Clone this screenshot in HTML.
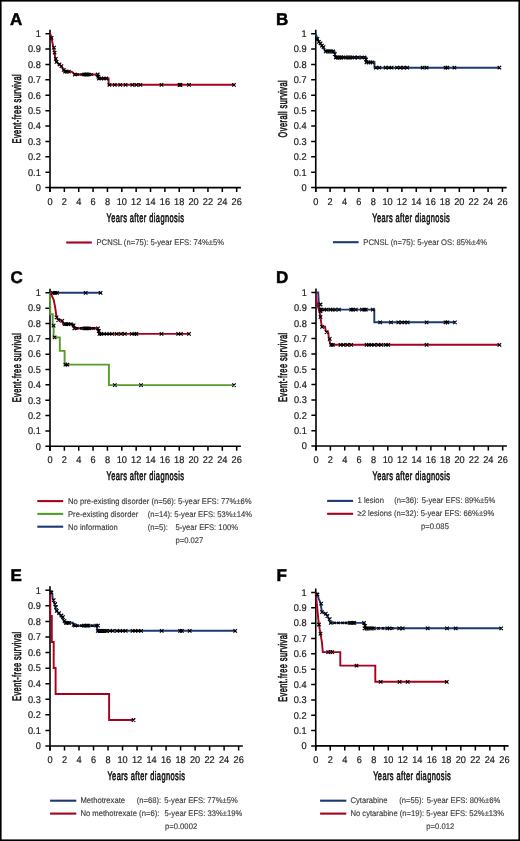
<!DOCTYPE html>
<html><head><meta charset="utf-8"><title>Figure</title>
<style>
html,body{margin:0;padding:0;background:#fff;}
body{width:520px;height:841px;overflow:hidden;font-family:"Liberation Sans", sans-serif;}
svg{display:block;will-change:transform;text-rendering:geometricPrecision;}
</style></head>
<body>
<svg width="520" height="841" viewBox="0 0 520 841">
<rect x="0" y="0" width="520" height="841" fill="#fff"/>
<rect x="0.8" y="0.8" width="518.4" height="839.4" fill="none" stroke="#000" stroke-width="1.6"/>
<text x="10" y="24.6" font-family='"Liberation Sans", sans-serif' font-weight="bold" font-size="17" fill="#000" stroke="#000" stroke-width="0.5">A</text>
<text transform="translate(40.8 190.9) scale(0.94 1)" text-anchor="end" font-family='"Liberation Sans", sans-serif' font-size="9.8" fill="#1a1a1a" stroke="#1a1a1a" stroke-width="0.2">0</text>
<text transform="translate(40.8 175.51) scale(0.94 1)" text-anchor="end" font-family='"Liberation Sans", sans-serif' font-size="9.8" fill="#1a1a1a" stroke="#1a1a1a" stroke-width="0.2">0.1</text>
<text transform="translate(40.8 160.12) scale(0.94 1)" text-anchor="end" font-family='"Liberation Sans", sans-serif' font-size="9.8" fill="#1a1a1a" stroke="#1a1a1a" stroke-width="0.2">0.2</text>
<text transform="translate(40.8 144.73) scale(0.94 1)" text-anchor="end" font-family='"Liberation Sans", sans-serif' font-size="9.8" fill="#1a1a1a" stroke="#1a1a1a" stroke-width="0.2">0.3</text>
<text transform="translate(40.8 129.34) scale(0.94 1)" text-anchor="end" font-family='"Liberation Sans", sans-serif' font-size="9.8" fill="#1a1a1a" stroke="#1a1a1a" stroke-width="0.2">0.4</text>
<text transform="translate(40.8 113.95) scale(0.94 1)" text-anchor="end" font-family='"Liberation Sans", sans-serif' font-size="9.8" fill="#1a1a1a" stroke="#1a1a1a" stroke-width="0.2">0.5</text>
<text transform="translate(40.8 98.56) scale(0.94 1)" text-anchor="end" font-family='"Liberation Sans", sans-serif' font-size="9.8" fill="#1a1a1a" stroke="#1a1a1a" stroke-width="0.2">0.6</text>
<text transform="translate(40.8 83.17) scale(0.94 1)" text-anchor="end" font-family='"Liberation Sans", sans-serif' font-size="9.8" fill="#1a1a1a" stroke="#1a1a1a" stroke-width="0.2">0.7</text>
<text transform="translate(40.8 67.78) scale(0.94 1)" text-anchor="end" font-family='"Liberation Sans", sans-serif' font-size="9.8" fill="#1a1a1a" stroke="#1a1a1a" stroke-width="0.2">0.8</text>
<text transform="translate(40.8 52.39) scale(0.94 1)" text-anchor="end" font-family='"Liberation Sans", sans-serif' font-size="9.8" fill="#1a1a1a" stroke="#1a1a1a" stroke-width="0.2">0.9</text>
<text transform="translate(40.8 37) scale(0.94 1)" text-anchor="end" font-family='"Liberation Sans", sans-serif' font-size="9.8" fill="#1a1a1a" stroke="#1a1a1a" stroke-width="0.2">1</text>
<text transform="translate(50 204.8) scale(0.94 1)" text-anchor="middle" font-family='"Liberation Sans", sans-serif' font-size="9.8" fill="#1a1a1a" stroke="#1a1a1a" stroke-width="0.2">0</text>
<text transform="translate(64.36 204.8) scale(0.94 1)" text-anchor="middle" font-family='"Liberation Sans", sans-serif' font-size="9.8" fill="#1a1a1a" stroke="#1a1a1a" stroke-width="0.2">2</text>
<text transform="translate(78.72 204.8) scale(0.94 1)" text-anchor="middle" font-family='"Liberation Sans", sans-serif' font-size="9.8" fill="#1a1a1a" stroke="#1a1a1a" stroke-width="0.2">4</text>
<text transform="translate(93.08 204.8) scale(0.94 1)" text-anchor="middle" font-family='"Liberation Sans", sans-serif' font-size="9.8" fill="#1a1a1a" stroke="#1a1a1a" stroke-width="0.2">6</text>
<text transform="translate(107.44 204.8) scale(0.94 1)" text-anchor="middle" font-family='"Liberation Sans", sans-serif' font-size="9.8" fill="#1a1a1a" stroke="#1a1a1a" stroke-width="0.2">8</text>
<text transform="translate(121.8 204.8) scale(0.94 1)" text-anchor="middle" font-family='"Liberation Sans", sans-serif' font-size="9.8" fill="#1a1a1a" stroke="#1a1a1a" stroke-width="0.2">10</text>
<text transform="translate(136.16 204.8) scale(0.94 1)" text-anchor="middle" font-family='"Liberation Sans", sans-serif' font-size="9.8" fill="#1a1a1a" stroke="#1a1a1a" stroke-width="0.2">12</text>
<text transform="translate(150.52 204.8) scale(0.94 1)" text-anchor="middle" font-family='"Liberation Sans", sans-serif' font-size="9.8" fill="#1a1a1a" stroke="#1a1a1a" stroke-width="0.2">14</text>
<text transform="translate(164.88 204.8) scale(0.94 1)" text-anchor="middle" font-family='"Liberation Sans", sans-serif' font-size="9.8" fill="#1a1a1a" stroke="#1a1a1a" stroke-width="0.2">16</text>
<text transform="translate(179.24 204.8) scale(0.94 1)" text-anchor="middle" font-family='"Liberation Sans", sans-serif' font-size="9.8" fill="#1a1a1a" stroke="#1a1a1a" stroke-width="0.2">18</text>
<text transform="translate(193.6 204.8) scale(0.94 1)" text-anchor="middle" font-family='"Liberation Sans", sans-serif' font-size="9.8" fill="#1a1a1a" stroke="#1a1a1a" stroke-width="0.2">20</text>
<text transform="translate(207.96 204.8) scale(0.94 1)" text-anchor="middle" font-family='"Liberation Sans", sans-serif' font-size="9.8" fill="#1a1a1a" stroke="#1a1a1a" stroke-width="0.2">22</text>
<text transform="translate(222.32 204.8) scale(0.94 1)" text-anchor="middle" font-family='"Liberation Sans", sans-serif' font-size="9.8" fill="#1a1a1a" stroke="#1a1a1a" stroke-width="0.2">24</text>
<text transform="translate(236.68 204.8) scale(0.94 1)" text-anchor="middle" font-family='"Liberation Sans", sans-serif' font-size="9.8" fill="#1a1a1a" stroke="#1a1a1a" stroke-width="0.2">26</text>
<path d="M45.4 187.6H50M45.4 172.21H50M45.4 156.82H50M45.4 141.43H50M45.4 126.04H50M45.4 110.65H50M45.4 95.26H50M45.4 79.87H50M45.4 64.48H50M45.4 49.09H50M45.4 33.7H50M50 187.6V192.1M64.36 187.6V192.1M78.72 187.6V192.1M93.08 187.6V192.1M107.44 187.6V192.1M121.8 187.6V192.1M136.16 187.6V192.1M150.52 187.6V192.1M164.88 187.6V192.1M179.24 187.6V192.1M193.6 187.6V192.1M207.96 187.6V192.1M222.32 187.6V192.1M236.68 187.6V192.1" stroke="#000" stroke-width="1.5" fill="none"/>
<path d="M50 29.7V192.1M49.25 187.6H240.88" stroke="#000" stroke-width="1.6" fill="none"/>
<text transform="translate(145.44 221.5) scale(0.6 1)" text-anchor="middle" font-family='"Liberation Sans", sans-serif' font-size="12.4" letter-spacing="0.7" fill="#111" stroke="#111" stroke-width="0.6">Years after diagnosis</text>
<text transform="translate(21 108.65) rotate(-90) scale(0.6 1)" text-anchor="middle" font-family='"Liberation Sans", sans-serif' font-size="12.4" letter-spacing="0.7" fill="#111" stroke="#111" stroke-width="0.6">Event-free survival</text>
<path d="M50.3 33.7 L51.5 37.8 L53.4 47.7 L54.6 52.6 L55.2 57.5 L55.8 61.2 L58.3 63.7 L61.4 66.2 L63.8 70.5 L64.5 71.7 L71.8 71.7 L74.9 74.5 L95.2 74.5 L97.7 76.6 L98.9 78.5 L108.6 78.5 L108.6 84.8 L234 84.8" fill="none" stroke="#a8001f" stroke-width="1.9" stroke-linejoin="miter"/>
<path d="M49.75 36.05L53.25 39.55M49.75 39.55L53.25 36.05M52.25 45.95L55.75 49.45M52.25 49.45L55.75 45.95M52.85 50.85L56.35 54.35M52.85 54.35L56.35 50.85M54.05 57.05L57.55 60.55M54.05 60.55L57.55 57.05M54.75 60.05L58.25 63.55M54.75 63.55L58.25 60.05M57.75 62.55L61.25 66.05M57.75 66.05L61.25 62.55M59.65 64.45L63.15 67.95M59.65 67.95L63.15 64.45M62.05 68.05L65.55 71.55M62.05 71.55L65.55 68.05M63.35 69.95L66.85 73.45M63.35 73.45L66.85 69.95M65.15 69.95L68.65 73.45M65.15 73.45L68.65 69.95M67.05 69.95L70.55 73.45M67.05 73.45L70.55 69.95M73.15 72.75L76.65 76.25M73.15 76.25L76.65 72.75M76.6 73.3L79 75.7M76.6 75.7L79 73.3M80.5 73.3L82.9 75.7M80.5 75.7L82.9 73.3M82.55 72.75L86.05 76.25M82.55 76.25L86.05 72.75M84.05 72.75L87.55 76.25M84.05 76.25L87.55 72.75M85.55 72.75L89.05 76.25M85.55 76.25L89.05 72.75M86.95 72.75L90.45 76.25M86.95 76.25L90.45 72.75M90.3 73.3L92.7 75.7M90.3 75.7L92.7 73.3M95.95 72.75L99.45 76.25M95.95 76.25L99.45 72.75M96.55 74.85L100.05 78.35M96.55 78.35L100.05 74.85M97.15 76.75L100.65 80.25M97.15 80.25L100.65 76.75M99.65 76.75L103.15 80.25M99.65 80.25L103.15 76.75M102.05 76.75L105.55 80.25M102.05 80.25L105.55 76.75M104.55 76.75L108.05 80.25M104.55 80.25L108.05 76.75M107.65 83.05L111.15 86.55M107.65 86.55L111.15 83.05M113.05 83.05L116.55 86.55M113.05 86.55L116.55 83.05M118.45 83.05L121.95 86.55M118.45 86.55L121.95 83.05M123.85 83.05L127.35 86.55M123.85 86.55L127.35 83.05M130.55 83.05L134.05 86.55M130.55 86.55L134.05 83.05M134.65 83.05L138.15 86.55M134.65 86.55L138.15 83.05M138.65 83.05L142.15 86.55M138.65 86.55L142.15 83.05M159.75 83.05L163.25 86.55M159.75 86.55L163.25 83.05M177.75 83.05L181.25 86.55M177.75 86.55L181.25 83.05M178.75 83.05L182.25 86.55M178.75 86.55L182.25 83.05M187.25 83.05L190.75 86.55M187.25 86.55L190.75 83.05M232.25 83.05L235.75 86.55M232.25 86.55L235.75 83.05" fill="none" stroke="#000" stroke-width="1.2"/>
<path d="M66.2 242.5H91.8" stroke="#a8001f" stroke-width="2.1"/>
<text transform="translate(96.5 245.4) scale(0.935 1)" font-family='"Liberation Sans", sans-serif' font-size="8.2" fill="#3c3c3c" stroke="#3c3c3c" stroke-width="0.15">PCNSL (n=75): 5-year EFS: 74%±5%</text>
<text x="276" y="24.6" font-family='"Liberation Sans", sans-serif' font-weight="bold" font-size="17" fill="#000" stroke="#000" stroke-width="0.5">B</text>
<text transform="translate(306.55 190.9) scale(0.94 1)" text-anchor="end" font-family='"Liberation Sans", sans-serif' font-size="9.8" fill="#1a1a1a" stroke="#1a1a1a" stroke-width="0.2">0</text>
<text transform="translate(306.55 175.51) scale(0.94 1)" text-anchor="end" font-family='"Liberation Sans", sans-serif' font-size="9.8" fill="#1a1a1a" stroke="#1a1a1a" stroke-width="0.2">0.1</text>
<text transform="translate(306.55 160.12) scale(0.94 1)" text-anchor="end" font-family='"Liberation Sans", sans-serif' font-size="9.8" fill="#1a1a1a" stroke="#1a1a1a" stroke-width="0.2">0.2</text>
<text transform="translate(306.55 144.73) scale(0.94 1)" text-anchor="end" font-family='"Liberation Sans", sans-serif' font-size="9.8" fill="#1a1a1a" stroke="#1a1a1a" stroke-width="0.2">0.3</text>
<text transform="translate(306.55 129.34) scale(0.94 1)" text-anchor="end" font-family='"Liberation Sans", sans-serif' font-size="9.8" fill="#1a1a1a" stroke="#1a1a1a" stroke-width="0.2">0.4</text>
<text transform="translate(306.55 113.95) scale(0.94 1)" text-anchor="end" font-family='"Liberation Sans", sans-serif' font-size="9.8" fill="#1a1a1a" stroke="#1a1a1a" stroke-width="0.2">0.5</text>
<text transform="translate(306.55 98.56) scale(0.94 1)" text-anchor="end" font-family='"Liberation Sans", sans-serif' font-size="9.8" fill="#1a1a1a" stroke="#1a1a1a" stroke-width="0.2">0.6</text>
<text transform="translate(306.55 83.17) scale(0.94 1)" text-anchor="end" font-family='"Liberation Sans", sans-serif' font-size="9.8" fill="#1a1a1a" stroke="#1a1a1a" stroke-width="0.2">0.7</text>
<text transform="translate(306.55 67.78) scale(0.94 1)" text-anchor="end" font-family='"Liberation Sans", sans-serif' font-size="9.8" fill="#1a1a1a" stroke="#1a1a1a" stroke-width="0.2">0.8</text>
<text transform="translate(306.55 52.39) scale(0.94 1)" text-anchor="end" font-family='"Liberation Sans", sans-serif' font-size="9.8" fill="#1a1a1a" stroke="#1a1a1a" stroke-width="0.2">0.9</text>
<text transform="translate(306.55 37) scale(0.94 1)" text-anchor="end" font-family='"Liberation Sans", sans-serif' font-size="9.8" fill="#1a1a1a" stroke="#1a1a1a" stroke-width="0.2">1</text>
<text transform="translate(315.75 204.8) scale(0.94 1)" text-anchor="middle" font-family='"Liberation Sans", sans-serif' font-size="9.8" fill="#1a1a1a" stroke="#1a1a1a" stroke-width="0.2">0</text>
<text transform="translate(330.11 204.8) scale(0.94 1)" text-anchor="middle" font-family='"Liberation Sans", sans-serif' font-size="9.8" fill="#1a1a1a" stroke="#1a1a1a" stroke-width="0.2">2</text>
<text transform="translate(344.47 204.8) scale(0.94 1)" text-anchor="middle" font-family='"Liberation Sans", sans-serif' font-size="9.8" fill="#1a1a1a" stroke="#1a1a1a" stroke-width="0.2">4</text>
<text transform="translate(358.83 204.8) scale(0.94 1)" text-anchor="middle" font-family='"Liberation Sans", sans-serif' font-size="9.8" fill="#1a1a1a" stroke="#1a1a1a" stroke-width="0.2">6</text>
<text transform="translate(373.19 204.8) scale(0.94 1)" text-anchor="middle" font-family='"Liberation Sans", sans-serif' font-size="9.8" fill="#1a1a1a" stroke="#1a1a1a" stroke-width="0.2">8</text>
<text transform="translate(387.55 204.8) scale(0.94 1)" text-anchor="middle" font-family='"Liberation Sans", sans-serif' font-size="9.8" fill="#1a1a1a" stroke="#1a1a1a" stroke-width="0.2">10</text>
<text transform="translate(401.91 204.8) scale(0.94 1)" text-anchor="middle" font-family='"Liberation Sans", sans-serif' font-size="9.8" fill="#1a1a1a" stroke="#1a1a1a" stroke-width="0.2">12</text>
<text transform="translate(416.27 204.8) scale(0.94 1)" text-anchor="middle" font-family='"Liberation Sans", sans-serif' font-size="9.8" fill="#1a1a1a" stroke="#1a1a1a" stroke-width="0.2">14</text>
<text transform="translate(430.63 204.8) scale(0.94 1)" text-anchor="middle" font-family='"Liberation Sans", sans-serif' font-size="9.8" fill="#1a1a1a" stroke="#1a1a1a" stroke-width="0.2">16</text>
<text transform="translate(444.99 204.8) scale(0.94 1)" text-anchor="middle" font-family='"Liberation Sans", sans-serif' font-size="9.8" fill="#1a1a1a" stroke="#1a1a1a" stroke-width="0.2">18</text>
<text transform="translate(459.35 204.8) scale(0.94 1)" text-anchor="middle" font-family='"Liberation Sans", sans-serif' font-size="9.8" fill="#1a1a1a" stroke="#1a1a1a" stroke-width="0.2">20</text>
<text transform="translate(473.71 204.8) scale(0.94 1)" text-anchor="middle" font-family='"Liberation Sans", sans-serif' font-size="9.8" fill="#1a1a1a" stroke="#1a1a1a" stroke-width="0.2">22</text>
<text transform="translate(488.07 204.8) scale(0.94 1)" text-anchor="middle" font-family='"Liberation Sans", sans-serif' font-size="9.8" fill="#1a1a1a" stroke="#1a1a1a" stroke-width="0.2">24</text>
<text transform="translate(502.43 204.8) scale(0.94 1)" text-anchor="middle" font-family='"Liberation Sans", sans-serif' font-size="9.8" fill="#1a1a1a" stroke="#1a1a1a" stroke-width="0.2">26</text>
<path d="M311.15 187.6H315.75M311.15 172.21H315.75M311.15 156.82H315.75M311.15 141.43H315.75M311.15 126.04H315.75M311.15 110.65H315.75M311.15 95.26H315.75M311.15 79.87H315.75M311.15 64.48H315.75M311.15 49.09H315.75M311.15 33.7H315.75M315.75 187.6V192.1M330.11 187.6V192.1M344.47 187.6V192.1M358.83 187.6V192.1M373.19 187.6V192.1M387.55 187.6V192.1M401.91 187.6V192.1M416.27 187.6V192.1M430.63 187.6V192.1M444.99 187.6V192.1M459.35 187.6V192.1M473.71 187.6V192.1M488.07 187.6V192.1M502.43 187.6V192.1" stroke="#000" stroke-width="1.5" fill="none"/>
<path d="M315.75 29.7V192.1M315 187.6H506.63" stroke="#000" stroke-width="1.6" fill="none"/>
<text transform="translate(411.19 221.5) scale(0.6 1)" text-anchor="middle" font-family='"Liberation Sans", sans-serif' font-size="12.4" letter-spacing="0.7" fill="#111" stroke="#111" stroke-width="0.6">Years after diagnosis</text>
<text transform="translate(286.75 108.65) rotate(-90) scale(0.6 1)" text-anchor="middle" font-family='"Liberation Sans", sans-serif' font-size="12.4" letter-spacing="0.7" fill="#111" stroke="#111" stroke-width="0.6">Overall survival</text>
<path d="M315.8 33.7 L317.4 38.8 L318.9 41.8 L321.2 44.9 L323.5 48 L325.3 51.3 L334.5 51.3 L335.3 57.5 L366 57.5 L366 62.3 L374.5 62.3 L374.5 67.7 L499.4 67.7" fill="none" stroke="#1b3a74" stroke-width="1.9" stroke-linejoin="miter"/>
<path d="M315.65 37.05L319.15 40.55M315.65 40.55L319.15 37.05M317.15 40.05L320.65 43.55M317.15 43.55L320.65 40.05M318.75 41.65L322.25 45.15M318.75 45.15L322.25 41.65M320.25 43.95L323.75 47.45M320.25 47.45L323.75 43.95M321.75 45.45L325.25 48.95M321.75 48.95L325.25 45.45M323.95 49.55L327.45 53.05M323.95 53.05L327.45 49.55M325.75 49.55L329.25 53.05M325.75 53.05L329.25 49.55M327.55 49.55L331.05 53.05M327.55 53.05L331.05 49.55M329.35 49.55L332.85 53.05M329.35 53.05L332.85 49.55M331.25 49.55L334.75 53.05M331.25 53.05L334.75 49.55M333.05 52.25L336.55 55.75M333.05 55.75L336.55 52.25M334.25 55.75L337.75 59.25M334.25 59.25L337.75 55.75M336.05 55.75L339.55 59.25M336.05 59.25L339.55 55.75M337.85 55.75L341.35 59.25M337.85 59.25L341.35 55.75M339.65 55.75L343.15 59.25M339.65 59.25L343.15 55.75M341.75 55.75L345.25 59.25M341.75 59.25L345.25 55.75M344.25 55.75L347.75 59.25M344.25 59.25L347.75 55.75M346.25 55.75L349.75 59.25M346.25 59.25L349.75 55.75M348.25 55.75L351.75 59.25M348.25 59.25L351.75 55.75M350.25 55.75L353.75 59.25M350.25 59.25L353.75 55.75M352.75 55.75L356.25 59.25M352.75 59.25L356.25 55.75M356.15 55.75L359.65 59.25M356.15 59.25L359.65 55.75M360.25 55.75L363.75 59.25M360.25 59.25L363.75 55.75M362.75 55.75L366.25 59.25M362.75 59.25L366.25 55.75M364.25 57.75L367.75 61.25M364.25 61.25L367.75 57.75M364.75 60.55L368.25 64.05M364.75 64.05L368.25 60.55M366.75 60.55L370.25 64.05M366.75 64.05L370.25 60.55M368.75 60.55L372.25 64.05M368.75 64.05L372.25 60.55M370.75 60.55L374.25 64.05M370.75 64.05L374.25 60.55M374.15 65.95L377.65 69.45M374.15 69.45L377.65 65.95M377.65 65.95L381.15 69.45M377.65 69.45L381.15 65.95M383.85 65.95L387.35 69.45M383.85 69.45L387.35 65.95M387.15 65.95L390.65 69.45M387.15 69.45L390.65 65.95M389.85 65.95L393.35 69.45M389.85 69.45L393.35 65.95M395.25 65.95L398.75 69.45M395.25 69.45L398.75 65.95M398.45 65.95L401.95 69.45M398.45 69.45L401.95 65.95M401.95 65.95L405.45 69.45M401.95 69.45L405.45 65.95M405.45 65.95L408.95 69.45M405.45 69.45L408.95 65.95M420.85 65.95L424.35 69.45M420.85 69.45L424.35 65.95M424.85 65.95L428.35 69.45M424.85 69.45L428.35 65.95M443.75 65.95L447.25 69.45M443.75 69.45L447.25 65.95M445.65 65.95L449.15 69.45M445.65 69.45L449.15 65.95M452.65 65.95L456.15 69.45M452.65 69.45L456.15 65.95M497.65 65.95L501.15 69.45M497.65 69.45L501.15 65.95" fill="none" stroke="#000" stroke-width="1.2"/>
<path d="M332.9 242.2H358.6" stroke="#1b3a74" stroke-width="2.1"/>
<text transform="translate(363.3 245.3) scale(0.935 1)" font-family='"Liberation Sans", sans-serif' font-size="8.2" fill="#3c3c3c" stroke="#3c3c3c" stroke-width="0.15">PCNSL (n=75): 5-year OS: 85%±4%</text>
<text x="10.5" y="282.7" font-family='"Liberation Sans", sans-serif' font-weight="bold" font-size="17" fill="#000" stroke="#000" stroke-width="0.5">C</text>
<text transform="translate(40.8 449.55) scale(0.94 1)" text-anchor="end" font-family='"Liberation Sans", sans-serif' font-size="9.8" fill="#1a1a1a" stroke="#1a1a1a" stroke-width="0.2">0</text>
<text transform="translate(40.8 434.2) scale(0.94 1)" text-anchor="end" font-family='"Liberation Sans", sans-serif' font-size="9.8" fill="#1a1a1a" stroke="#1a1a1a" stroke-width="0.2">0.1</text>
<text transform="translate(40.8 418.86) scale(0.94 1)" text-anchor="end" font-family='"Liberation Sans", sans-serif' font-size="9.8" fill="#1a1a1a" stroke="#1a1a1a" stroke-width="0.2">0.2</text>
<text transform="translate(40.8 403.52) scale(0.94 1)" text-anchor="end" font-family='"Liberation Sans", sans-serif' font-size="9.8" fill="#1a1a1a" stroke="#1a1a1a" stroke-width="0.2">0.3</text>
<text transform="translate(40.8 388.17) scale(0.94 1)" text-anchor="end" font-family='"Liberation Sans", sans-serif' font-size="9.8" fill="#1a1a1a" stroke="#1a1a1a" stroke-width="0.2">0.4</text>
<text transform="translate(40.8 372.82) scale(0.94 1)" text-anchor="end" font-family='"Liberation Sans", sans-serif' font-size="9.8" fill="#1a1a1a" stroke="#1a1a1a" stroke-width="0.2">0.5</text>
<text transform="translate(40.8 357.48) scale(0.94 1)" text-anchor="end" font-family='"Liberation Sans", sans-serif' font-size="9.8" fill="#1a1a1a" stroke="#1a1a1a" stroke-width="0.2">0.6</text>
<text transform="translate(40.8 342.14) scale(0.94 1)" text-anchor="end" font-family='"Liberation Sans", sans-serif' font-size="9.8" fill="#1a1a1a" stroke="#1a1a1a" stroke-width="0.2">0.7</text>
<text transform="translate(40.8 326.79) scale(0.94 1)" text-anchor="end" font-family='"Liberation Sans", sans-serif' font-size="9.8" fill="#1a1a1a" stroke="#1a1a1a" stroke-width="0.2">0.8</text>
<text transform="translate(40.8 311.44) scale(0.94 1)" text-anchor="end" font-family='"Liberation Sans", sans-serif' font-size="9.8" fill="#1a1a1a" stroke="#1a1a1a" stroke-width="0.2">0.9</text>
<text transform="translate(40.8 296.1) scale(0.94 1)" text-anchor="end" font-family='"Liberation Sans", sans-serif' font-size="9.8" fill="#1a1a1a" stroke="#1a1a1a" stroke-width="0.2">1</text>
<text transform="translate(50 463.45) scale(0.94 1)" text-anchor="middle" font-family='"Liberation Sans", sans-serif' font-size="9.8" fill="#1a1a1a" stroke="#1a1a1a" stroke-width="0.2">0</text>
<text transform="translate(64.36 463.45) scale(0.94 1)" text-anchor="middle" font-family='"Liberation Sans", sans-serif' font-size="9.8" fill="#1a1a1a" stroke="#1a1a1a" stroke-width="0.2">2</text>
<text transform="translate(78.72 463.45) scale(0.94 1)" text-anchor="middle" font-family='"Liberation Sans", sans-serif' font-size="9.8" fill="#1a1a1a" stroke="#1a1a1a" stroke-width="0.2">4</text>
<text transform="translate(93.08 463.45) scale(0.94 1)" text-anchor="middle" font-family='"Liberation Sans", sans-serif' font-size="9.8" fill="#1a1a1a" stroke="#1a1a1a" stroke-width="0.2">6</text>
<text transform="translate(107.44 463.45) scale(0.94 1)" text-anchor="middle" font-family='"Liberation Sans", sans-serif' font-size="9.8" fill="#1a1a1a" stroke="#1a1a1a" stroke-width="0.2">8</text>
<text transform="translate(121.8 463.45) scale(0.94 1)" text-anchor="middle" font-family='"Liberation Sans", sans-serif' font-size="9.8" fill="#1a1a1a" stroke="#1a1a1a" stroke-width="0.2">10</text>
<text transform="translate(136.16 463.45) scale(0.94 1)" text-anchor="middle" font-family='"Liberation Sans", sans-serif' font-size="9.8" fill="#1a1a1a" stroke="#1a1a1a" stroke-width="0.2">12</text>
<text transform="translate(150.52 463.45) scale(0.94 1)" text-anchor="middle" font-family='"Liberation Sans", sans-serif' font-size="9.8" fill="#1a1a1a" stroke="#1a1a1a" stroke-width="0.2">14</text>
<text transform="translate(164.88 463.45) scale(0.94 1)" text-anchor="middle" font-family='"Liberation Sans", sans-serif' font-size="9.8" fill="#1a1a1a" stroke="#1a1a1a" stroke-width="0.2">16</text>
<text transform="translate(179.24 463.45) scale(0.94 1)" text-anchor="middle" font-family='"Liberation Sans", sans-serif' font-size="9.8" fill="#1a1a1a" stroke="#1a1a1a" stroke-width="0.2">18</text>
<text transform="translate(193.6 463.45) scale(0.94 1)" text-anchor="middle" font-family='"Liberation Sans", sans-serif' font-size="9.8" fill="#1a1a1a" stroke="#1a1a1a" stroke-width="0.2">20</text>
<text transform="translate(207.96 463.45) scale(0.94 1)" text-anchor="middle" font-family='"Liberation Sans", sans-serif' font-size="9.8" fill="#1a1a1a" stroke="#1a1a1a" stroke-width="0.2">22</text>
<text transform="translate(222.32 463.45) scale(0.94 1)" text-anchor="middle" font-family='"Liberation Sans", sans-serif' font-size="9.8" fill="#1a1a1a" stroke="#1a1a1a" stroke-width="0.2">24</text>
<text transform="translate(236.68 463.45) scale(0.94 1)" text-anchor="middle" font-family='"Liberation Sans", sans-serif' font-size="9.8" fill="#1a1a1a" stroke="#1a1a1a" stroke-width="0.2">26</text>
<path d="M45.4 446.25H50M45.4 430.9H50M45.4 415.56H50M45.4 400.22H50M45.4 384.87H50M45.4 369.52H50M45.4 354.18H50M45.4 338.84H50M45.4 323.49H50M45.4 308.14H50M45.4 292.8H50M50 446.25V450.75M64.36 446.25V450.75M78.72 446.25V450.75M93.08 446.25V450.75M107.44 446.25V450.75M121.8 446.25V450.75M136.16 446.25V450.75M150.52 446.25V450.75M164.88 446.25V450.75M179.24 446.25V450.75M193.6 446.25V450.75M207.96 446.25V450.75M222.32 446.25V450.75M236.68 446.25V450.75" stroke="#000" stroke-width="1.5" fill="none"/>
<path d="M50 288.8V450.75M49.25 446.25H240.88" stroke="#000" stroke-width="1.6" fill="none"/>
<text transform="translate(145.44 480.15) scale(0.6 1)" text-anchor="middle" font-family='"Liberation Sans", sans-serif' font-size="12.4" letter-spacing="0.7" fill="#111" stroke="#111" stroke-width="0.6">Years after diagnosis</text>
<text transform="translate(21 367.52) rotate(-90) scale(0.6 1)" text-anchor="middle" font-family='"Liberation Sans", sans-serif' font-size="12.4" letter-spacing="0.7" fill="#111" stroke="#111" stroke-width="0.6">Event-free survival</text>
<path d="M50 292.8 L100.6 292.8" fill="none" stroke="#1b3a74" stroke-width="1.9" stroke-linejoin="miter"/>
<path d="M50 292.8 L50.3 314.2 L52.7 314.2 L52.7 325.6 L53.6 325.6 L53.6 337.4 L59.8 337.4 L59.8 350.9 L64.6 350.9 L64.6 364.6 L108.9 364.6 L108.9 385.1 L234 385.1" fill="none" stroke="#559c2a" stroke-width="1.9" stroke-linejoin="miter"/>
<path d="M50.5 292.8 L53.7 299.8 L55.2 307.5 L56.3 315.5 L57.9 319.5 L62.2 320.8 L63.1 324.2 L73 324.2 L74.3 328.3 L96.8 328.3 L98.3 330.6 L99 333.9 L189 333.9" fill="none" stroke="#a8001f" stroke-width="1.9" stroke-linejoin="miter"/>
<path d="M51.35 291.05L54.85 294.55M51.35 294.55L54.85 291.05M53.25 291.05L56.75 294.55M53.25 294.55L56.75 291.05M55.15 291.05L58.65 294.55M55.15 294.55L58.65 291.05M83.95 291.05L87.45 294.55M83.95 294.55L87.45 291.05M98.85 291.05L102.35 294.55M98.85 294.55L102.35 291.05M51.85 323.85L55.35 327.35M51.85 327.35L55.35 323.85M52.85 335.65L56.35 339.15M52.85 339.15L56.35 335.65M63.65 362.85L67.15 366.35M63.65 366.35L67.15 362.85M65.65 362.85L69.15 366.35M65.65 366.35L69.15 362.85M113.05 383.35L116.55 386.85M113.05 386.85L116.55 383.35M139.25 383.35L142.75 386.85M139.25 386.85L142.75 383.35M232.25 383.35L235.75 386.85M232.25 386.85L235.75 383.35M54.75 315.55L58.25 319.05M54.75 319.05L58.25 315.55M56.45 318.35L59.95 321.85M56.45 321.85L59.95 318.35M60.45 319.05L63.95 322.55M60.45 322.55L63.95 319.05M63.25 322.45L66.75 325.95M63.25 325.95L66.75 322.45M64.85 322.45L68.35 325.95M64.85 325.95L68.35 322.45M66.65 322.45L70.15 325.95M66.65 325.95L70.15 322.45M68.95 322.45L72.45 325.95M68.95 325.95L72.45 322.45M71.85 323.55L75.35 327.05M71.85 327.05L75.35 323.55M72.55 326.55L76.05 330.05M72.55 330.05L76.05 326.55M76 327.1L78.4 329.5M76 329.5L78.4 327.1M80 327.1L82.4 329.5M80 329.5L82.4 327.1M82.65 326.55L86.15 330.05M82.65 330.05L86.15 326.55M84.05 326.55L87.55 330.05M84.05 330.05L87.55 326.55M85.55 326.55L89.05 330.05M85.55 330.05L89.05 326.55M86.95 326.55L90.45 330.05M86.95 330.05L90.45 326.55M90.1 327.1L92.5 329.5M90.1 329.5L92.5 327.1M92.8 327.1L95.2 329.5M92.8 329.5L95.2 327.1M96.25 326.55L99.75 330.05M96.25 330.05L99.75 326.55M97.05 329.25L100.55 332.75M97.05 332.75L100.55 329.25M97.75 332.15L101.25 335.65M97.75 335.65L101.25 332.15M99.55 332.15L103.05 335.65M99.55 335.65L103.05 332.15M102.25 332.15L105.75 335.65M102.25 335.65L105.75 332.15M104.95 332.15L108.45 335.65M104.95 335.65L108.45 332.15M107.65 332.15L111.15 335.65M107.65 335.65L111.15 332.15M110.35 332.15L113.85 335.65M110.35 335.65L113.85 332.15M114.95 332.15L118.45 335.65M114.95 335.65L118.45 332.15M119.25 332.15L122.75 335.65M119.25 335.65L122.75 332.15M123.05 332.15L126.55 335.65M123.05 335.65L126.55 332.15M130.05 332.15L133.55 335.65M130.05 335.65L133.55 332.15M132.75 332.15L136.25 335.65M132.75 335.65L136.25 332.15M134.65 332.15L138.15 335.65M134.65 335.65L138.15 332.15M159.75 332.15L163.25 335.65M159.75 335.65L163.25 332.15M176.45 332.15L179.95 335.65M176.45 335.65L179.95 332.15M179.15 332.15L182.65 335.65M179.15 335.65L182.65 332.15M187.25 332.15L190.75 335.65M187.25 335.65L190.75 332.15" fill="none" stroke="#000" stroke-width="1.2"/>
<path d="M37.3 501.1H63.2" stroke="#a8001f" stroke-width="2.1"/>
<path d="M37.3 513.9H63.2" stroke="#559c2a" stroke-width="2.1"/>
<path d="M37.3 526.7H63.2" stroke="#1b3a74" stroke-width="2.1"/>
<text transform="translate(68 504) scale(0.935 1)" font-family='"Liberation Sans", sans-serif' font-size="8.2" fill="#3c3c3c" stroke="#3c3c3c" stroke-width="0.15">No pre-existing disorder (n=56): 5-year EFS: 77%±6%</text>
<text transform="translate(68 516.8) scale(0.935 1)" font-family='"Liberation Sans", sans-serif' font-size="8.2" fill="#3c3c3c" stroke="#3c3c3c" stroke-width="0.15">Pre-existing disorder</text>
<text transform="translate(147.7 516.8) scale(0.935 1)" font-family='"Liberation Sans", sans-serif' font-size="8.2" fill="#3c3c3c" stroke="#3c3c3c" stroke-width="0.15">(n=14): 5-year EFS: 53%±14%</text>
<text transform="translate(68 529.6) scale(0.935 1)" font-family='"Liberation Sans", sans-serif' font-size="8.2" fill="#3c3c3c" stroke="#3c3c3c" stroke-width="0.15">No information</text>
<text transform="translate(147.7 529.6) scale(0.935 1)" font-family='"Liberation Sans", sans-serif' font-size="8.2" fill="#3c3c3c" stroke="#3c3c3c" stroke-width="0.15">(n=5):</text>
<text transform="translate(175.4 529.6) scale(0.935 1)" font-family='"Liberation Sans", sans-serif' font-size="8.2" fill="#3c3c3c" stroke="#3c3c3c" stroke-width="0.15">5-year EFS: 100%</text>
<text transform="translate(175.4 542.5) scale(0.935 1)" font-family='"Liberation Sans", sans-serif' font-size="8.2" fill="#3c3c3c" stroke="#3c3c3c" stroke-width="0.15">p=0.027</text>
<text x="276" y="282.7" font-family='"Liberation Sans", sans-serif' font-weight="bold" font-size="17" fill="#000" stroke="#000" stroke-width="0.5">D</text>
<text transform="translate(306.8 449.3) scale(0.94 1)" text-anchor="end" font-family='"Liberation Sans", sans-serif' font-size="9.8" fill="#1a1a1a" stroke="#1a1a1a" stroke-width="0.2">0</text>
<text transform="translate(306.8 433.95) scale(0.94 1)" text-anchor="end" font-family='"Liberation Sans", sans-serif' font-size="9.8" fill="#1a1a1a" stroke="#1a1a1a" stroke-width="0.2">0.1</text>
<text transform="translate(306.8 418.6) scale(0.94 1)" text-anchor="end" font-family='"Liberation Sans", sans-serif' font-size="9.8" fill="#1a1a1a" stroke="#1a1a1a" stroke-width="0.2">0.2</text>
<text transform="translate(306.8 403.25) scale(0.94 1)" text-anchor="end" font-family='"Liberation Sans", sans-serif' font-size="9.8" fill="#1a1a1a" stroke="#1a1a1a" stroke-width="0.2">0.3</text>
<text transform="translate(306.8 387.9) scale(0.94 1)" text-anchor="end" font-family='"Liberation Sans", sans-serif' font-size="9.8" fill="#1a1a1a" stroke="#1a1a1a" stroke-width="0.2">0.4</text>
<text transform="translate(306.8 372.55) scale(0.94 1)" text-anchor="end" font-family='"Liberation Sans", sans-serif' font-size="9.8" fill="#1a1a1a" stroke="#1a1a1a" stroke-width="0.2">0.5</text>
<text transform="translate(306.8 357.2) scale(0.94 1)" text-anchor="end" font-family='"Liberation Sans", sans-serif' font-size="9.8" fill="#1a1a1a" stroke="#1a1a1a" stroke-width="0.2">0.6</text>
<text transform="translate(306.8 341.85) scale(0.94 1)" text-anchor="end" font-family='"Liberation Sans", sans-serif' font-size="9.8" fill="#1a1a1a" stroke="#1a1a1a" stroke-width="0.2">0.7</text>
<text transform="translate(306.8 326.5) scale(0.94 1)" text-anchor="end" font-family='"Liberation Sans", sans-serif' font-size="9.8" fill="#1a1a1a" stroke="#1a1a1a" stroke-width="0.2">0.8</text>
<text transform="translate(306.8 311.15) scale(0.94 1)" text-anchor="end" font-family='"Liberation Sans", sans-serif' font-size="9.8" fill="#1a1a1a" stroke="#1a1a1a" stroke-width="0.2">0.9</text>
<text transform="translate(306.8 295.8) scale(0.94 1)" text-anchor="end" font-family='"Liberation Sans", sans-serif' font-size="9.8" fill="#1a1a1a" stroke="#1a1a1a" stroke-width="0.2">1</text>
<text transform="translate(316 463.2) scale(0.94 1)" text-anchor="middle" font-family='"Liberation Sans", sans-serif' font-size="9.8" fill="#1a1a1a" stroke="#1a1a1a" stroke-width="0.2">0</text>
<text transform="translate(330.36 463.2) scale(0.94 1)" text-anchor="middle" font-family='"Liberation Sans", sans-serif' font-size="9.8" fill="#1a1a1a" stroke="#1a1a1a" stroke-width="0.2">2</text>
<text transform="translate(344.72 463.2) scale(0.94 1)" text-anchor="middle" font-family='"Liberation Sans", sans-serif' font-size="9.8" fill="#1a1a1a" stroke="#1a1a1a" stroke-width="0.2">4</text>
<text transform="translate(359.08 463.2) scale(0.94 1)" text-anchor="middle" font-family='"Liberation Sans", sans-serif' font-size="9.8" fill="#1a1a1a" stroke="#1a1a1a" stroke-width="0.2">6</text>
<text transform="translate(373.44 463.2) scale(0.94 1)" text-anchor="middle" font-family='"Liberation Sans", sans-serif' font-size="9.8" fill="#1a1a1a" stroke="#1a1a1a" stroke-width="0.2">8</text>
<text transform="translate(387.8 463.2) scale(0.94 1)" text-anchor="middle" font-family='"Liberation Sans", sans-serif' font-size="9.8" fill="#1a1a1a" stroke="#1a1a1a" stroke-width="0.2">10</text>
<text transform="translate(402.16 463.2) scale(0.94 1)" text-anchor="middle" font-family='"Liberation Sans", sans-serif' font-size="9.8" fill="#1a1a1a" stroke="#1a1a1a" stroke-width="0.2">12</text>
<text transform="translate(416.52 463.2) scale(0.94 1)" text-anchor="middle" font-family='"Liberation Sans", sans-serif' font-size="9.8" fill="#1a1a1a" stroke="#1a1a1a" stroke-width="0.2">14</text>
<text transform="translate(430.88 463.2) scale(0.94 1)" text-anchor="middle" font-family='"Liberation Sans", sans-serif' font-size="9.8" fill="#1a1a1a" stroke="#1a1a1a" stroke-width="0.2">16</text>
<text transform="translate(445.24 463.2) scale(0.94 1)" text-anchor="middle" font-family='"Liberation Sans", sans-serif' font-size="9.8" fill="#1a1a1a" stroke="#1a1a1a" stroke-width="0.2">18</text>
<text transform="translate(459.6 463.2) scale(0.94 1)" text-anchor="middle" font-family='"Liberation Sans", sans-serif' font-size="9.8" fill="#1a1a1a" stroke="#1a1a1a" stroke-width="0.2">20</text>
<text transform="translate(473.96 463.2) scale(0.94 1)" text-anchor="middle" font-family='"Liberation Sans", sans-serif' font-size="9.8" fill="#1a1a1a" stroke="#1a1a1a" stroke-width="0.2">22</text>
<text transform="translate(488.32 463.2) scale(0.94 1)" text-anchor="middle" font-family='"Liberation Sans", sans-serif' font-size="9.8" fill="#1a1a1a" stroke="#1a1a1a" stroke-width="0.2">24</text>
<text transform="translate(502.68 463.2) scale(0.94 1)" text-anchor="middle" font-family='"Liberation Sans", sans-serif' font-size="9.8" fill="#1a1a1a" stroke="#1a1a1a" stroke-width="0.2">26</text>
<path d="M311.4 446H316M311.4 430.65H316M311.4 415.3H316M311.4 399.95H316M311.4 384.6H316M311.4 369.25H316M311.4 353.9H316M311.4 338.55H316M311.4 323.2H316M311.4 307.85H316M311.4 292.5H316M316 446V450.5M330.36 446V450.5M344.72 446V450.5M359.08 446V450.5M373.44 446V450.5M387.8 446V450.5M402.16 446V450.5M416.52 446V450.5M430.88 446V450.5M445.24 446V450.5M459.6 446V450.5M473.96 446V450.5M488.32 446V450.5M502.68 446V450.5" stroke="#000" stroke-width="1.5" fill="none"/>
<path d="M316 288.5V450.5M315.25 446H506.88" stroke="#000" stroke-width="1.6" fill="none"/>
<text transform="translate(411.44 479.9) scale(0.6 1)" text-anchor="middle" font-family='"Liberation Sans", sans-serif' font-size="12.4" letter-spacing="0.7" fill="#111" stroke="#111" stroke-width="0.6">Years after diagnosis</text>
<text transform="translate(287 367.25) rotate(-90) scale(0.6 1)" text-anchor="middle" font-family='"Liberation Sans", sans-serif' font-size="12.4" letter-spacing="0.7" fill="#111" stroke="#111" stroke-width="0.6">Event-free survival</text>
<path d="M316.3 292.5 L318.2 292.5 L318.9 304.5 L319.7 309.6 L374.3 309.6 L374.3 322.3 L454.9 322.3" fill="none" stroke="#1b3a74" stroke-width="1.9" stroke-linejoin="miter"/>
<path d="M316 293.5 L316.6 301.4 L318.2 307.5 L319.7 312.2 L320.5 316.8 L321.2 322.9 L322 326.8 L325.1 326.8 L325.8 331.4 L328.2 332.2 L328.9 338.3 L330.5 344.8 L499.4 344.8" fill="none" stroke="#a8001f" stroke-width="1.9" stroke-linejoin="miter"/>
<path d="M318.75 302.75L322.25 306.25M318.75 306.25L322.25 302.75M318.75 307.85L322.25 311.35M318.75 311.35L322.25 307.85M319.85 307.85L323.35 311.35M319.85 311.35L323.35 307.85M322.55 307.85L326.05 311.35M322.55 311.35L326.05 307.85M324.85 307.85L328.35 311.35M324.85 311.35L328.35 307.85M328.75 307.85L332.25 311.35M328.75 311.35L332.25 307.85M331.05 307.85L334.55 311.35M331.05 311.35L334.55 307.85M333.25 307.85L336.75 311.35M333.25 311.35L336.75 307.85M337.15 307.85L340.65 311.35M337.15 311.35L340.65 307.85M349.45 307.85L352.95 311.35M349.45 311.35L352.95 307.85M351.05 307.85L354.55 311.35M351.05 311.35L354.55 307.85M354.05 307.85L357.55 311.35M354.05 311.35L357.55 307.85M360.25 307.85L363.75 311.35M360.25 311.35L363.75 307.85M362.55 307.85L366.05 311.35M362.55 311.35L366.05 307.85M364.05 307.85L367.55 311.35M364.05 311.35L367.55 307.85M371.05 307.85L374.55 311.35M371.05 311.35L374.55 307.85M378.45 320.55L381.95 324.05M378.45 324.05L381.95 320.55M389.25 320.55L392.75 324.05M389.25 324.05L392.75 320.55M396.55 320.55L400.05 324.05M396.55 324.05L400.05 320.55M400.05 320.55L403.55 324.05M400.05 324.05L403.55 320.55M402.75 320.55L406.25 324.05M402.75 324.05L406.25 320.55M405.95 320.55L409.45 324.05M405.95 324.05L409.45 320.55M424.85 320.55L428.35 324.05M424.85 324.05L428.35 320.55M443.75 320.55L447.25 324.05M443.75 324.05L447.25 320.55M445.65 320.55L449.15 324.05M445.65 324.05L449.15 320.55M453.15 320.55L456.65 324.05M453.15 324.05L456.65 320.55M318.75 309.65L322.25 313.15M318.75 313.15L322.25 309.65M318.75 315.05L322.25 318.55M318.75 318.55L322.25 315.05M320.25 325.05L323.75 328.55M320.25 328.55L323.75 325.05M324.85 330.45L328.35 333.95M324.85 333.95L328.35 330.45M327.95 337.15L331.45 340.65M327.95 340.65L331.45 337.15M329.45 343.05L332.95 346.55M329.45 346.55L332.95 343.05M331.05 343.05L334.55 346.55M331.05 346.55L334.55 343.05M338.75 343.05L342.25 346.55M338.75 346.55L342.25 343.05M341.75 343.05L345.25 346.55M341.75 346.55L345.25 343.05M345.65 343.05L349.15 346.55M345.65 346.55L349.15 343.05M349.45 343.05L352.95 346.55M349.45 346.55L352.95 343.05M364.85 343.05L368.35 346.55M364.85 346.55L368.35 343.05M367.15 343.05L370.65 346.55M367.15 346.55L370.65 343.05M369.55 343.05L373.05 346.55M369.55 346.55L373.05 343.05M372.55 343.05L376.05 346.55M372.55 346.55L376.05 343.05M376.35 343.05L379.85 346.55M376.35 346.55L379.85 343.05M379.45 343.05L382.95 346.55M379.45 346.55L382.95 343.05M384.05 343.05L387.55 346.55M384.05 346.55L387.55 343.05M386.45 343.05L389.95 346.55M386.45 346.55L389.95 343.05M424.85 343.05L428.35 346.55M424.85 346.55L428.35 343.05M497.65 343.05L501.15 346.55M497.65 346.55L501.15 343.05" fill="none" stroke="#000" stroke-width="1.2"/>
<path d="M327.1 500.9H353.1" stroke="#1b3a74" stroke-width="2.1"/>
<path d="M327.1 513.8H353.1" stroke="#a8001f" stroke-width="2.1"/>
<text transform="translate(357.5 503.3) scale(0.935 1)" font-family='"Liberation Sans", sans-serif' font-size="8.2" fill="#3c3c3c" stroke="#3c3c3c" stroke-width="0.15">1 lesion</text>
<text transform="translate(394.2 503.3) scale(0.935 1)" font-family='"Liberation Sans", sans-serif' font-size="8.2" fill="#3c3c3c" stroke="#3c3c3c" stroke-width="0.15">(n=36):</text>
<text transform="translate(421.7 503.3) scale(0.935 1)" font-family='"Liberation Sans", sans-serif' font-size="8.2" fill="#3c3c3c" stroke="#3c3c3c" stroke-width="0.15">5-year EFS: 89%±5%</text>
<text transform="translate(357.5 516.2) scale(0.935 1)" font-family='"Liberation Sans", sans-serif' font-size="8.2" fill="#3c3c3c" stroke="#3c3c3c" stroke-width="0.15">≥2 lesions (n=32): 5-year EFS: 66%±9%</text>
<text transform="translate(421 529.2) scale(0.935 1)" font-family='"Liberation Sans", sans-serif' font-size="8.2" fill="#3c3c3c" stroke="#3c3c3c" stroke-width="0.15">p=0.085</text>
<text x="10.5" y="581" font-family='"Liberation Sans", sans-serif' font-weight="bold" font-size="17" fill="#000" stroke="#000" stroke-width="0.5">E</text>
<text transform="translate(40.8 749.3) scale(0.94 1)" text-anchor="end" font-family='"Liberation Sans", sans-serif' font-size="9.8" fill="#1a1a1a" stroke="#1a1a1a" stroke-width="0.2">0</text>
<text transform="translate(40.8 733.73) scale(0.94 1)" text-anchor="end" font-family='"Liberation Sans", sans-serif' font-size="9.8" fill="#1a1a1a" stroke="#1a1a1a" stroke-width="0.2">0.1</text>
<text transform="translate(40.8 718.16) scale(0.94 1)" text-anchor="end" font-family='"Liberation Sans", sans-serif' font-size="9.8" fill="#1a1a1a" stroke="#1a1a1a" stroke-width="0.2">0.2</text>
<text transform="translate(40.8 702.59) scale(0.94 1)" text-anchor="end" font-family='"Liberation Sans", sans-serif' font-size="9.8" fill="#1a1a1a" stroke="#1a1a1a" stroke-width="0.2">0.3</text>
<text transform="translate(40.8 687.02) scale(0.94 1)" text-anchor="end" font-family='"Liberation Sans", sans-serif' font-size="9.8" fill="#1a1a1a" stroke="#1a1a1a" stroke-width="0.2">0.4</text>
<text transform="translate(40.8 671.45) scale(0.94 1)" text-anchor="end" font-family='"Liberation Sans", sans-serif' font-size="9.8" fill="#1a1a1a" stroke="#1a1a1a" stroke-width="0.2">0.5</text>
<text transform="translate(40.8 655.88) scale(0.94 1)" text-anchor="end" font-family='"Liberation Sans", sans-serif' font-size="9.8" fill="#1a1a1a" stroke="#1a1a1a" stroke-width="0.2">0.6</text>
<text transform="translate(40.8 640.31) scale(0.94 1)" text-anchor="end" font-family='"Liberation Sans", sans-serif' font-size="9.8" fill="#1a1a1a" stroke="#1a1a1a" stroke-width="0.2">0.7</text>
<text transform="translate(40.8 624.74) scale(0.94 1)" text-anchor="end" font-family='"Liberation Sans", sans-serif' font-size="9.8" fill="#1a1a1a" stroke="#1a1a1a" stroke-width="0.2">0.8</text>
<text transform="translate(40.8 609.17) scale(0.94 1)" text-anchor="end" font-family='"Liberation Sans", sans-serif' font-size="9.8" fill="#1a1a1a" stroke="#1a1a1a" stroke-width="0.2">0.9</text>
<text transform="translate(40.8 593.6) scale(0.94 1)" text-anchor="end" font-family='"Liberation Sans", sans-serif' font-size="9.8" fill="#1a1a1a" stroke="#1a1a1a" stroke-width="0.2">1</text>
<text transform="translate(50 763.2) scale(0.94 1)" text-anchor="middle" font-family='"Liberation Sans", sans-serif' font-size="9.8" fill="#1a1a1a" stroke="#1a1a1a" stroke-width="0.2">0</text>
<text transform="translate(64.51 763.2) scale(0.94 1)" text-anchor="middle" font-family='"Liberation Sans", sans-serif' font-size="9.8" fill="#1a1a1a" stroke="#1a1a1a" stroke-width="0.2">2</text>
<text transform="translate(79.02 763.2) scale(0.94 1)" text-anchor="middle" font-family='"Liberation Sans", sans-serif' font-size="9.8" fill="#1a1a1a" stroke="#1a1a1a" stroke-width="0.2">4</text>
<text transform="translate(93.53 763.2) scale(0.94 1)" text-anchor="middle" font-family='"Liberation Sans", sans-serif' font-size="9.8" fill="#1a1a1a" stroke="#1a1a1a" stroke-width="0.2">6</text>
<text transform="translate(108.04 763.2) scale(0.94 1)" text-anchor="middle" font-family='"Liberation Sans", sans-serif' font-size="9.8" fill="#1a1a1a" stroke="#1a1a1a" stroke-width="0.2">8</text>
<text transform="translate(122.55 763.2) scale(0.94 1)" text-anchor="middle" font-family='"Liberation Sans", sans-serif' font-size="9.8" fill="#1a1a1a" stroke="#1a1a1a" stroke-width="0.2">10</text>
<text transform="translate(137.06 763.2) scale(0.94 1)" text-anchor="middle" font-family='"Liberation Sans", sans-serif' font-size="9.8" fill="#1a1a1a" stroke="#1a1a1a" stroke-width="0.2">12</text>
<text transform="translate(151.57 763.2) scale(0.94 1)" text-anchor="middle" font-family='"Liberation Sans", sans-serif' font-size="9.8" fill="#1a1a1a" stroke="#1a1a1a" stroke-width="0.2">14</text>
<text transform="translate(166.08 763.2) scale(0.94 1)" text-anchor="middle" font-family='"Liberation Sans", sans-serif' font-size="9.8" fill="#1a1a1a" stroke="#1a1a1a" stroke-width="0.2">16</text>
<text transform="translate(180.59 763.2) scale(0.94 1)" text-anchor="middle" font-family='"Liberation Sans", sans-serif' font-size="9.8" fill="#1a1a1a" stroke="#1a1a1a" stroke-width="0.2">18</text>
<text transform="translate(195.1 763.2) scale(0.94 1)" text-anchor="middle" font-family='"Liberation Sans", sans-serif' font-size="9.8" fill="#1a1a1a" stroke="#1a1a1a" stroke-width="0.2">20</text>
<text transform="translate(209.61 763.2) scale(0.94 1)" text-anchor="middle" font-family='"Liberation Sans", sans-serif' font-size="9.8" fill="#1a1a1a" stroke="#1a1a1a" stroke-width="0.2">22</text>
<text transform="translate(224.12 763.2) scale(0.94 1)" text-anchor="middle" font-family='"Liberation Sans", sans-serif' font-size="9.8" fill="#1a1a1a" stroke="#1a1a1a" stroke-width="0.2">24</text>
<text transform="translate(238.63 763.2) scale(0.94 1)" text-anchor="middle" font-family='"Liberation Sans", sans-serif' font-size="9.8" fill="#1a1a1a" stroke="#1a1a1a" stroke-width="0.2">26</text>
<path d="M45.4 746H50M45.4 730.43H50M45.4 714.86H50M45.4 699.29H50M45.4 683.72H50M45.4 668.15H50M45.4 652.58H50M45.4 637.01H50M45.4 621.44H50M45.4 605.87H50M45.4 590.3H50M50 746V750.5M64.51 746V750.5M79.02 746V750.5M93.53 746V750.5M108.04 746V750.5M122.55 746V750.5M137.06 746V750.5M151.57 746V750.5M166.08 746V750.5M180.59 746V750.5M195.1 746V750.5M209.61 746V750.5M224.12 746V750.5M238.63 746V750.5" stroke="#000" stroke-width="1.5" fill="none"/>
<path d="M50 586.3V750.5M49.25 746H242.83" stroke="#000" stroke-width="1.6" fill="none"/>
<text transform="translate(146.41 779.9) scale(0.6 1)" text-anchor="middle" font-family='"Liberation Sans", sans-serif' font-size="12.4" letter-spacing="0.7" fill="#111" stroke="#111" stroke-width="0.6">Years after diagnosis</text>
<text transform="translate(21 666.15) rotate(-90) scale(0.6 1)" text-anchor="middle" font-family='"Liberation Sans", sans-serif' font-size="12.4" letter-spacing="0.7" fill="#111" stroke="#111" stroke-width="0.6">Event-free survival</text>
<path d="M50.3 590.25 L50.3 616 L51.8 616 L51.8 642 L53.7 642 L53.7 668 L55.6 668 L55.6 694 L109.1 694 L109.1 720 L133.5 720" fill="none" stroke="#a8001f" stroke-width="1.9" stroke-linejoin="miter"/>
<path d="M50.6 590.2 L52.2 594 L52.9 599.4 L54.5 604 L56 610.2 L58.3 613.2 L61.4 616.3 L63.7 620.9 L64.5 622.8 L72.9 622.8 L74.5 625.7 L96.8 625.7 L97.5 630.8 L235.2 630.8" fill="none" stroke="#1b3a74" stroke-width="1.9" stroke-linejoin="miter"/>
<path d="M49.65 590.75L53.15 594.25M49.65 594.25L53.15 590.75M51.95 598.45L55.45 601.95M51.95 601.95L55.45 598.45M53.45 602.25L56.95 605.75M53.45 605.75L56.95 602.25M54.25 605.35L57.75 608.85M54.25 608.85L57.75 605.35M55.05 609.15L58.55 612.65M55.05 612.65L58.55 609.15M57.35 611.45L60.85 614.95M57.35 614.95L60.85 611.45M59.65 613.75L63.15 617.25M59.65 617.25L63.15 613.75M61.15 615.35L64.65 618.85M61.15 618.85L64.65 615.35M62.75 619.15L66.25 622.65M62.75 622.65L66.25 619.15M64.25 621.05L67.75 624.55M64.25 624.55L67.75 621.05M65.75 621.05L69.25 624.55M65.75 624.55L69.25 621.05M67.35 621.05L70.85 624.55M67.35 624.55L70.85 621.05M71.95 623.05L75.45 626.55M71.95 626.55L75.45 623.05M73.35 623.95L76.85 627.45M73.35 627.45L76.85 623.95M76.2 624.5L78.6 626.9M76.2 626.9L78.6 624.5M80.2 624.5L82.6 626.9M80.2 626.9L82.6 624.5M82.25 623.95L85.75 627.45M82.25 627.45L85.75 623.95M83.75 623.95L87.25 627.45M83.75 627.45L87.25 623.95M85.25 623.95L88.75 627.45M85.25 627.45L88.75 623.95M86.75 623.95L90.25 627.45M86.75 627.45L90.25 623.95M91.2 624.5L93.6 626.9M91.2 626.9L93.6 624.5M94.45 623.95L97.95 627.45M94.45 627.45L97.95 623.95M96.25 623.95L99.75 627.45M96.25 627.45L99.75 623.95M96.05 629.05L99.55 632.55M96.05 632.55L99.55 629.05M97.75 629.05L101.25 632.55M97.75 632.55L101.25 629.05M99.45 629.05L102.95 632.55M99.45 632.55L102.95 629.05M101.25 629.05L104.75 632.55M101.25 632.55L104.75 629.05M103.05 629.05L106.55 632.55M103.05 632.55L106.55 629.05M104.75 629.05L108.25 632.55M104.75 632.55L108.25 629.05M108.15 629.05L111.65 632.55M108.15 632.55L111.65 629.05M111 629.05L114.5 632.55M111 632.55L114.5 629.05M115.25 629.05L118.75 632.55M115.25 632.55L118.75 629.05M118.25 629.05L121.75 632.55M118.25 632.55L121.75 629.05M121.05 629.05L124.55 632.55M121.05 632.55L124.55 629.05M123.95 629.05L127.45 632.55M123.95 632.55L127.45 629.05M130.75 629.05L134.25 632.55M130.75 632.55L134.25 629.05M133.55 629.05L137.05 632.55M133.55 632.55L137.05 629.05M136.45 629.05L139.95 632.55M136.45 632.55L139.95 629.05M139.35 629.05L142.85 632.55M139.35 632.55L142.85 629.05M159.95 629.05L163.45 632.55M159.95 632.55L163.45 629.05M178.35 629.05L181.85 632.55M178.35 632.55L181.85 629.05M180.15 629.05L183.65 632.55M180.15 632.55L183.65 629.05M187.95 629.05L191.45 632.55M187.95 632.55L191.45 629.05M233.45 629.05L236.95 632.55M233.45 632.55L236.95 629.05M131.75 718.25L135.25 721.75M131.75 721.75L135.25 718.25" fill="none" stroke="#000" stroke-width="1.2"/>
<path d="M50.1 800.7H76.3" stroke="#1b3a74" stroke-width="2.1"/>
<path d="M50.1 813.6H76.3" stroke="#a8001f" stroke-width="2.1"/>
<text transform="translate(80.4 803.1) scale(0.935 1)" font-family='"Liberation Sans", sans-serif' font-size="8.2" fill="#3c3c3c" stroke="#3c3c3c" stroke-width="0.15">Methotrexate</text>
<text transform="translate(136.7 803.1) scale(0.935 1)" font-family='"Liberation Sans", sans-serif' font-size="8.2" fill="#3c3c3c" stroke="#3c3c3c" stroke-width="0.15">(n=68):</text>
<text transform="translate(164.3 803.1) scale(0.935 1)" font-family='"Liberation Sans", sans-serif' font-size="8.2" fill="#3c3c3c" stroke="#3c3c3c" stroke-width="0.15">5-year EFS: 77%±5%</text>
<text transform="translate(80.4 816) scale(0.935 1)" font-family='"Liberation Sans", sans-serif' font-size="8.2" fill="#3c3c3c" stroke="#3c3c3c" stroke-width="0.15">No methotrexate (n=6):</text>
<text transform="translate(164.5 816) scale(0.935 1)" font-family='"Liberation Sans", sans-serif' font-size="8.2" fill="#3c3c3c" stroke="#3c3c3c" stroke-width="0.15">5-year EFS: 33%±19%</text>
<text transform="translate(165 828.7) scale(0.935 1)" font-family='"Liberation Sans", sans-serif' font-size="8.2" fill="#3c3c3c" stroke="#3c3c3c" stroke-width="0.15">p=0.0002</text>
<text x="276.5" y="581" font-family='"Liberation Sans", sans-serif' font-weight="bold" font-size="17" fill="#000" stroke="#000" stroke-width="0.5">F</text>
<text transform="translate(306.55 749.2) scale(0.94 1)" text-anchor="end" font-family='"Liberation Sans", sans-serif' font-size="9.8" fill="#1a1a1a" stroke="#1a1a1a" stroke-width="0.2">0</text>
<text transform="translate(306.55 733.86) scale(0.94 1)" text-anchor="end" font-family='"Liberation Sans", sans-serif' font-size="9.8" fill="#1a1a1a" stroke="#1a1a1a" stroke-width="0.2">0.1</text>
<text transform="translate(306.55 718.52) scale(0.94 1)" text-anchor="end" font-family='"Liberation Sans", sans-serif' font-size="9.8" fill="#1a1a1a" stroke="#1a1a1a" stroke-width="0.2">0.2</text>
<text transform="translate(306.55 703.18) scale(0.94 1)" text-anchor="end" font-family='"Liberation Sans", sans-serif' font-size="9.8" fill="#1a1a1a" stroke="#1a1a1a" stroke-width="0.2">0.3</text>
<text transform="translate(306.55 687.84) scale(0.94 1)" text-anchor="end" font-family='"Liberation Sans", sans-serif' font-size="9.8" fill="#1a1a1a" stroke="#1a1a1a" stroke-width="0.2">0.4</text>
<text transform="translate(306.55 672.5) scale(0.94 1)" text-anchor="end" font-family='"Liberation Sans", sans-serif' font-size="9.8" fill="#1a1a1a" stroke="#1a1a1a" stroke-width="0.2">0.5</text>
<text transform="translate(306.55 657.16) scale(0.94 1)" text-anchor="end" font-family='"Liberation Sans", sans-serif' font-size="9.8" fill="#1a1a1a" stroke="#1a1a1a" stroke-width="0.2">0.6</text>
<text transform="translate(306.55 641.82) scale(0.94 1)" text-anchor="end" font-family='"Liberation Sans", sans-serif' font-size="9.8" fill="#1a1a1a" stroke="#1a1a1a" stroke-width="0.2">0.7</text>
<text transform="translate(306.55 626.48) scale(0.94 1)" text-anchor="end" font-family='"Liberation Sans", sans-serif' font-size="9.8" fill="#1a1a1a" stroke="#1a1a1a" stroke-width="0.2">0.8</text>
<text transform="translate(306.55 611.14) scale(0.94 1)" text-anchor="end" font-family='"Liberation Sans", sans-serif' font-size="9.8" fill="#1a1a1a" stroke="#1a1a1a" stroke-width="0.2">0.9</text>
<text transform="translate(306.55 595.8) scale(0.94 1)" text-anchor="end" font-family='"Liberation Sans", sans-serif' font-size="9.8" fill="#1a1a1a" stroke="#1a1a1a" stroke-width="0.2">1</text>
<text transform="translate(315.75 763.1) scale(0.94 1)" text-anchor="middle" font-family='"Liberation Sans", sans-serif' font-size="9.8" fill="#1a1a1a" stroke="#1a1a1a" stroke-width="0.2">0</text>
<text transform="translate(330.26 763.1) scale(0.94 1)" text-anchor="middle" font-family='"Liberation Sans", sans-serif' font-size="9.8" fill="#1a1a1a" stroke="#1a1a1a" stroke-width="0.2">2</text>
<text transform="translate(344.77 763.1) scale(0.94 1)" text-anchor="middle" font-family='"Liberation Sans", sans-serif' font-size="9.8" fill="#1a1a1a" stroke="#1a1a1a" stroke-width="0.2">4</text>
<text transform="translate(359.28 763.1) scale(0.94 1)" text-anchor="middle" font-family='"Liberation Sans", sans-serif' font-size="9.8" fill="#1a1a1a" stroke="#1a1a1a" stroke-width="0.2">6</text>
<text transform="translate(373.79 763.1) scale(0.94 1)" text-anchor="middle" font-family='"Liberation Sans", sans-serif' font-size="9.8" fill="#1a1a1a" stroke="#1a1a1a" stroke-width="0.2">8</text>
<text transform="translate(388.3 763.1) scale(0.94 1)" text-anchor="middle" font-family='"Liberation Sans", sans-serif' font-size="9.8" fill="#1a1a1a" stroke="#1a1a1a" stroke-width="0.2">10</text>
<text transform="translate(402.81 763.1) scale(0.94 1)" text-anchor="middle" font-family='"Liberation Sans", sans-serif' font-size="9.8" fill="#1a1a1a" stroke="#1a1a1a" stroke-width="0.2">12</text>
<text transform="translate(417.32 763.1) scale(0.94 1)" text-anchor="middle" font-family='"Liberation Sans", sans-serif' font-size="9.8" fill="#1a1a1a" stroke="#1a1a1a" stroke-width="0.2">14</text>
<text transform="translate(431.83 763.1) scale(0.94 1)" text-anchor="middle" font-family='"Liberation Sans", sans-serif' font-size="9.8" fill="#1a1a1a" stroke="#1a1a1a" stroke-width="0.2">16</text>
<text transform="translate(446.34 763.1) scale(0.94 1)" text-anchor="middle" font-family='"Liberation Sans", sans-serif' font-size="9.8" fill="#1a1a1a" stroke="#1a1a1a" stroke-width="0.2">18</text>
<text transform="translate(460.85 763.1) scale(0.94 1)" text-anchor="middle" font-family='"Liberation Sans", sans-serif' font-size="9.8" fill="#1a1a1a" stroke="#1a1a1a" stroke-width="0.2">20</text>
<text transform="translate(475.36 763.1) scale(0.94 1)" text-anchor="middle" font-family='"Liberation Sans", sans-serif' font-size="9.8" fill="#1a1a1a" stroke="#1a1a1a" stroke-width="0.2">22</text>
<text transform="translate(489.87 763.1) scale(0.94 1)" text-anchor="middle" font-family='"Liberation Sans", sans-serif' font-size="9.8" fill="#1a1a1a" stroke="#1a1a1a" stroke-width="0.2">24</text>
<text transform="translate(504.38 763.1) scale(0.94 1)" text-anchor="middle" font-family='"Liberation Sans", sans-serif' font-size="9.8" fill="#1a1a1a" stroke="#1a1a1a" stroke-width="0.2">26</text>
<path d="M311.15 745.9H315.75M311.15 730.56H315.75M311.15 715.22H315.75M311.15 699.88H315.75M311.15 684.54H315.75M311.15 669.2H315.75M311.15 653.86H315.75M311.15 638.52H315.75M311.15 623.18H315.75M311.15 607.84H315.75M311.15 592.5H315.75M315.75 745.9V750.4M330.26 745.9V750.4M344.77 745.9V750.4M359.28 745.9V750.4M373.79 745.9V750.4M388.3 745.9V750.4M402.81 745.9V750.4M417.32 745.9V750.4M431.83 745.9V750.4M446.34 745.9V750.4M460.85 745.9V750.4M475.36 745.9V750.4M489.87 745.9V750.4M504.38 745.9V750.4" stroke="#000" stroke-width="1.5" fill="none"/>
<path d="M315.75 588.5V750.4M315 745.9H508.58" stroke="#000" stroke-width="1.6" fill="none"/>
<text transform="translate(412.16 779.8) scale(0.6 1)" text-anchor="middle" font-family='"Liberation Sans", sans-serif' font-size="12.4" letter-spacing="0.7" fill="#111" stroke="#111" stroke-width="0.6">Years after diagnosis</text>
<text transform="translate(286.75 667.2) rotate(-90) scale(0.6 1)" text-anchor="middle" font-family='"Liberation Sans", sans-serif' font-size="12.4" letter-spacing="0.7" fill="#111" stroke="#111" stroke-width="0.6">Event.free survival</text>
<path d="M315.8 592.5 L316.6 601.4 L318.2 618.3 L318.9 624.5 L319.7 629.1 L320.5 633.7 L322 642.9 L322.8 652.1 L340.3 652.1 L340.3 665.6 L375.3 665.6 L375.3 681.8 L446.8 681.8" fill="none" stroke="#a8001f" stroke-width="1.9" stroke-linejoin="miter"/>
<path d="M316.3 592.5 L317.4 594.5 L318.9 599.1 L320.5 602.9 L321.2 607.5 L322 612.2 L325.1 613.7 L327.4 616 L328.9 619.1 L330.5 622.9 L364.3 622.9 L365.1 626.3 L365.8 628.3 L501.2 628.3" fill="none" stroke="#1b3a74" stroke-width="1.9" stroke-linejoin="miter"/>
<path d="M315.65 592.75L319.15 596.25M315.65 596.25L319.15 592.75M319.45 601.95L322.95 605.45M319.45 605.45L322.95 601.95M320.25 610.45L323.75 613.95M320.25 613.95L323.75 610.45M324.05 611.95L327.55 615.45M324.05 615.45L327.55 611.95M325.65 614.25L329.15 617.75M325.65 617.75L329.15 614.25M327.95 617.35L331.45 620.85M327.95 620.85L331.45 617.35M329.05 621.15L332.55 624.65M329.05 624.65L332.55 621.15M333.3 621.7L335.7 624.1M333.3 624.1L335.7 621.7M337.3 621.7L339.7 624.1M337.3 624.1L339.7 621.7M341.3 621.7L343.7 624.1M341.3 624.1L343.7 621.7M344.8 621.7L347.2 624.1M344.8 624.1L347.2 621.7M347.95 621.15L351.45 624.65M347.95 624.65L351.45 621.15M349.45 621.15L352.95 624.65M349.45 624.65L352.95 621.15M351.05 621.15L354.55 624.65M351.05 624.65L354.55 621.15M352.55 621.15L356.05 624.65M352.55 624.65L356.05 621.15M362.25 621.15L365.75 624.65M362.25 624.65L365.75 621.15M363.35 624.05L366.85 627.55M363.35 627.55L366.85 624.05M362.75 626.55L366.25 630.05M362.75 630.05L366.25 626.55M364.55 626.55L368.05 630.05M364.55 630.05L368.05 626.55M366.45 626.55L369.95 630.05M366.45 630.05L369.95 626.55M368.25 626.55L371.75 630.05M368.25 630.05L371.75 626.55M370.25 626.55L373.75 630.05M370.25 630.05L373.75 626.55M372.05 626.55L375.55 630.05M372.05 630.05L375.55 626.55M377.3 627.1L379.7 629.5M377.3 629.5L379.7 627.1M381.8 627.1L384.2 629.5M381.8 629.5L384.2 627.1M385.55 626.55L389.05 630.05M385.55 630.05L389.05 626.55M387.75 626.55L391.25 630.05M387.75 630.05L391.25 626.55M391.1 627.1L393.5 629.5M391.1 629.5L393.5 627.1M397.45 626.55L400.95 630.05M397.45 630.05L400.95 626.55M400.95 626.55L404.45 630.05M400.95 630.05L404.45 626.55M425.95 626.55L429.45 630.05M425.95 630.05L429.45 626.55M445.25 626.55L448.75 630.05M445.25 630.05L448.75 626.55M453.95 626.55L457.45 630.05M453.95 630.05L457.45 626.55M499.45 626.55L502.95 630.05M499.45 630.05L502.95 626.55M317.15 622.75L320.65 626.25M317.15 626.25L320.65 622.75M318.75 631.95L322.25 635.45M318.75 635.45L322.25 631.95M326.45 650.35L329.95 653.85M326.45 653.85L329.95 650.35M328.55 650.35L332.05 653.85M328.55 653.85L332.05 650.35M330.45 650.35L333.95 653.85M330.45 653.85L333.95 650.35M354.75 663.85L358.25 667.35M354.75 667.35L358.25 663.85M378.95 680.05L382.45 683.55M378.95 683.55L382.45 680.05M397.85 680.05L401.35 683.55M397.85 683.55L401.35 680.05M405.95 680.05L409.45 683.55M405.95 683.55L409.45 680.05M445.05 680.05L448.55 683.55M445.05 683.55L448.55 680.05" fill="none" stroke="#000" stroke-width="1.2"/>
<path d="M320.1 800.7H346.3" stroke="#1b3a74" stroke-width="2.1"/>
<path d="M320.1 813.6H346.3" stroke="#a8001f" stroke-width="2.1"/>
<text transform="translate(350.4 803.1) scale(0.935 1)" font-family='"Liberation Sans", sans-serif' font-size="8.2" fill="#3c3c3c" stroke="#3c3c3c" stroke-width="0.15">Cytarabine</text>
<text transform="translate(399.2 803.1) scale(0.935 1)" font-family='"Liberation Sans", sans-serif' font-size="8.2" fill="#3c3c3c" stroke="#3c3c3c" stroke-width="0.15">(n=55):</text>
<text transform="translate(426.7 803.1) scale(0.935 1)" font-family='"Liberation Sans", sans-serif' font-size="8.2" fill="#3c3c3c" stroke="#3c3c3c" stroke-width="0.15">5-year EFS: 80%±6%</text>
<text transform="translate(350.4 816) scale(0.935 1)" font-family='"Liberation Sans", sans-serif' font-size="8.2" fill="#3c3c3c" stroke="#3c3c3c" stroke-width="0.15">No cytarabine (n=19): 5-year EFS: 52%±13%</text>
<text transform="translate(426.3 828.7) scale(0.935 1)" font-family='"Liberation Sans", sans-serif' font-size="8.2" fill="#3c3c3c" stroke="#3c3c3c" stroke-width="0.15">p=0.012</text>
</svg>
</body></html>
